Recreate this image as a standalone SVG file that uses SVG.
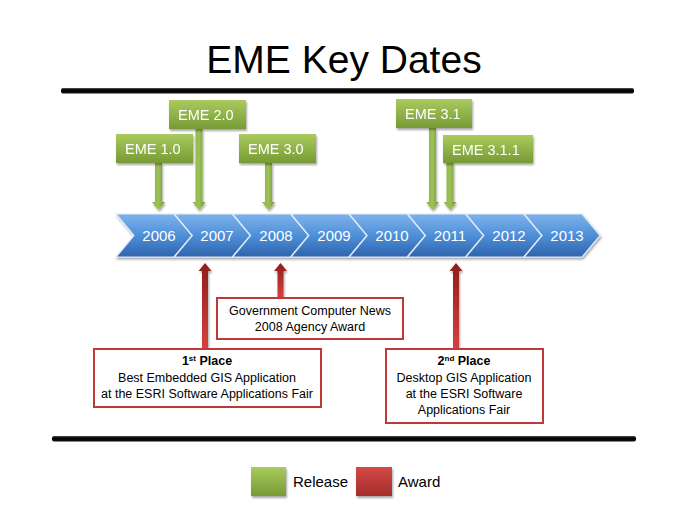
<svg xmlns="http://www.w3.org/2000/svg" width="700" height="525" viewBox="0 0 700 525">
  <defs>
    <linearGradient id="gGreen" x1="0" y1="0" x2="0" y2="1">
      <stop offset="0" stop-color="#a9cb5e"/>
      <stop offset="1" stop-color="#779a35"/>
    </linearGradient>
    <linearGradient id="gGreenArrow" x1="0" y1="0" x2="1" y2="0">
      <stop offset="0" stop-color="#8bb145"/>
      <stop offset="0.5" stop-color="#9cc155"/>
      <stop offset="1" stop-color="#729534"/>
    </linearGradient>
    <linearGradient id="gRed" x1="0" y1="0" x2="0" y2="1">
      <stop offset="0" stop-color="#d44a46"/>
      <stop offset="1" stop-color="#a42d2b"/>
    </linearGradient>
    <linearGradient id="gRedArrow" x1="0" y1="0" x2="0" y2="1">
      <stop offset="0" stop-color="#8e1e1c"/>
      <stop offset="1" stop-color="#d8403d"/>
    </linearGradient>
    <linearGradient id="gBlue" x1="0" y1="0" x2="0" y2="1">
      <stop offset="0" stop-color="#7db3ec"/>
      <stop offset="0.5" stop-color="#4f8fd8"/>
      <stop offset="1" stop-color="#2d64ad"/>
    </linearGradient>
    <linearGradient id="gBar" x1="0" y1="0" x2="0" y2="1">
      <stop offset="0" stop-color="#555"/>
      <stop offset="0.35" stop-color="#000"/>
      <stop offset="1" stop-color="#111"/>
    </linearGradient>
    <filter id="shadow" x="-10%" y="-10%" width="130%" height="140%">
      <feGaussianBlur in="SourceAlpha" stdDeviation="1.2"/>
      <feOffset dx="1" dy="2" result="b"/>
      <feComponentTransfer><feFuncA type="linear" slope="0.35"/></feComponentTransfer>
      <feMerge><feMergeNode/><feMergeNode in="SourceGraphic"/></feMerge>
    </filter>
    <path id="chev" d="M0,0 H58 L76,21.5 L58,43 H0 L18,21.5 Z"/>
  </defs>
  <style>
    .title { font-family: "Liberation Sans", Arial, sans-serif; font-size: 39px; fill: #000; }
    .rel { fill: url(#gGreen); }
    .relText { font-family: "Liberation Sans", Arial, sans-serif; font-size: 14.5px; fill: #fff; }
    .year { font-family: "Liberation Sans", Arial, sans-serif; font-size: 15px; fill: #fff; text-anchor: middle; }
    .chev { fill: url(#gBlue); stroke: #dfe9f5; stroke-width: 1.2; }
    .award { fill: #fff; stroke: #c0393a; stroke-width: 2; }
    .awardText { font-family: "Liberation Sans", Arial, sans-serif; font-size: 12.5px; fill: #000; text-anchor: middle; }
    .b { font-weight: bold; }
    .garrow { fill: url(#gGreenArrow); }
    .rarrow { fill: url(#gRedArrow); }
    .legendText { font-family: "Liberation Sans", Arial, sans-serif; font-size: 15px; fill: #000; }
  </style>

  <rect width="700" height="525" fill="#fff"/>

  <!-- heading -->
  <text class="title" x="344" y="73" text-anchor="middle">EME Key Dates</text>

  <!-- separator rules -->
  <rect x="61" y="88" width="573" height="5.5" rx="2" fill="url(#gBar)"/>
  <rect x="52" y="436" width="584" height="5.5" rx="2" fill="url(#gBar)"/>

  <!-- year chevrons -->
  <g id="timeline" filter="url(#shadow)">
    <use href="#chev" class="chev" x="116" y="214"/>
    <use href="#chev" class="chev" x="174.3" y="214"/>
    <use href="#chev" class="chev" x="232.6" y="214"/>
    <use href="#chev" class="chev" x="290.9" y="214"/>
    <use href="#chev" class="chev" x="349.2" y="214"/>
    <use href="#chev" class="chev" x="407.5" y="214"/>
    <use href="#chev" class="chev" x="465.8" y="214"/>
    <use href="#chev" class="chev" x="524.1" y="214"/>
  </g>
  <g id="years">
    <text class="year" x="159" y="241">2006</text>
    <text class="year" x="217" y="241">2007</text>
    <text class="year" x="276" y="241">2008</text>
    <text class="year" x="334" y="241">2009</text>
    <text class="year" x="392" y="241">2010</text>
    <text class="year" x="450" y="241">2011</text>
    <text class="year" x="509" y="241">2012</text>
    <text class="year" x="567" y="241">2013</text>
  </g>

  <!-- connectors: release arrows point down, award arrows point up -->
  <g id="connectors" filter="url(#shadow)">
    <path class="garrow" d="M155,163 H162 V202 H165 L158.5,210 L152,202 H155 Z"/>
    <path class="garrow" d="M195.5,129 H202.5 V202 H205.5 L199,210 L192.5,202 H195.5 Z"/>
    <path class="garrow" d="M265,163 H272 V202 H275 L268.5,210 L262,202 H265 Z"/>
    <path class="garrow" d="M429,128 H436 V202 H439 L432.5,210 L426,202 H429 Z"/>
    <path class="garrow" d="M446.5,163 H453.5 V202 H456.5 L450,210 L443.5,202 H446.5 Z"/>
    <path class="rarrow" d="M202,349 V271 H198.5 L205,263 L211.5,271 H208 V349 Z"/>
    <path class="rarrow" d="M277.5,298 V271 H274 L280.5,263 L287,271 H283.5 V298 Z"/>
    <path class="rarrow" d="M453,349 V271 H449.5 L456,263 L462.5,271 H459 V349 Z"/>
  </g>

  <!-- releases -->
  <g id="eme10" filter="url(#shadow)">
    <rect class="rel" x="116" y="134" width="77" height="29"/>
    <text class="relText" x="125" y="154">EME 1.0</text>
  </g>
  <g id="eme20" filter="url(#shadow)">
    <rect class="rel" x="169" y="100" width="77" height="29"/>
    <text class="relText" x="178" y="120">EME 2.0</text>
  </g>
  <g id="eme30" filter="url(#shadow)">
    <rect class="rel" x="239" y="134" width="77" height="29"/>
    <text class="relText" x="248" y="154">EME 3.0</text>
  </g>
  <g id="eme31" filter="url(#shadow)">
    <rect class="rel" x="396" y="99" width="76" height="29"/>
    <text class="relText" x="405" y="119">EME 3.1</text>
  </g>
  <g id="eme311" filter="url(#shadow)">
    <rect class="rel" x="443" y="135" width="90" height="28"/>
    <text class="relText" x="452" y="155">EME 3.1.1</text>
  </g>

  <!-- awards -->
  <g id="gcn">
    <rect class="award" x="217" y="298" width="186" height="41"/>
    <text class="awardText" x="310" y="315">Government Computer News</text>
    <text class="awardText" x="310" y="331">2008 Agency Award</text>
  </g>
  <g id="first">
    <rect class="award" x="94" y="349" width="227" height="58"/>
    <text class="awardText b" x="207" y="365">1<tspan font-size="8" dy="-4.5">st</tspan><tspan dy="4.5"> Place</tspan></text>
    <text class="awardText" x="207" y="382">Best Embedded GIS Application</text>
    <text class="awardText" x="207" y="398">at the  ESRI Software Applications Fair</text>
  </g>
  <g id="second">
    <rect class="award" x="386" y="349" width="157" height="74"/>
    <text class="awardText b" x="464" y="365">2<tspan font-size="8" dy="-4.5">nd</tspan><tspan dy="4.5"> Place</tspan></text>
    <text class="awardText" x="464" y="382">Desktop GIS Application</text>
    <text class="awardText" x="464" y="398">at the  ESRI Software</text>
    <text class="awardText" x="464" y="414">Applications Fair</text>
  </g>

  <!-- legend -->
  <g id="legend">
    <rect x="251" y="467" width="35" height="29" fill="url(#gGreen)" filter="url(#shadow)"/>
    <text class="legendText" x="293" y="487">Release</text>
    <rect x="356" y="467" width="36" height="29" fill="url(#gRed)" filter="url(#shadow)"/>
    <text class="legendText" x="398" y="487">Award</text>
  </g>
</svg>
